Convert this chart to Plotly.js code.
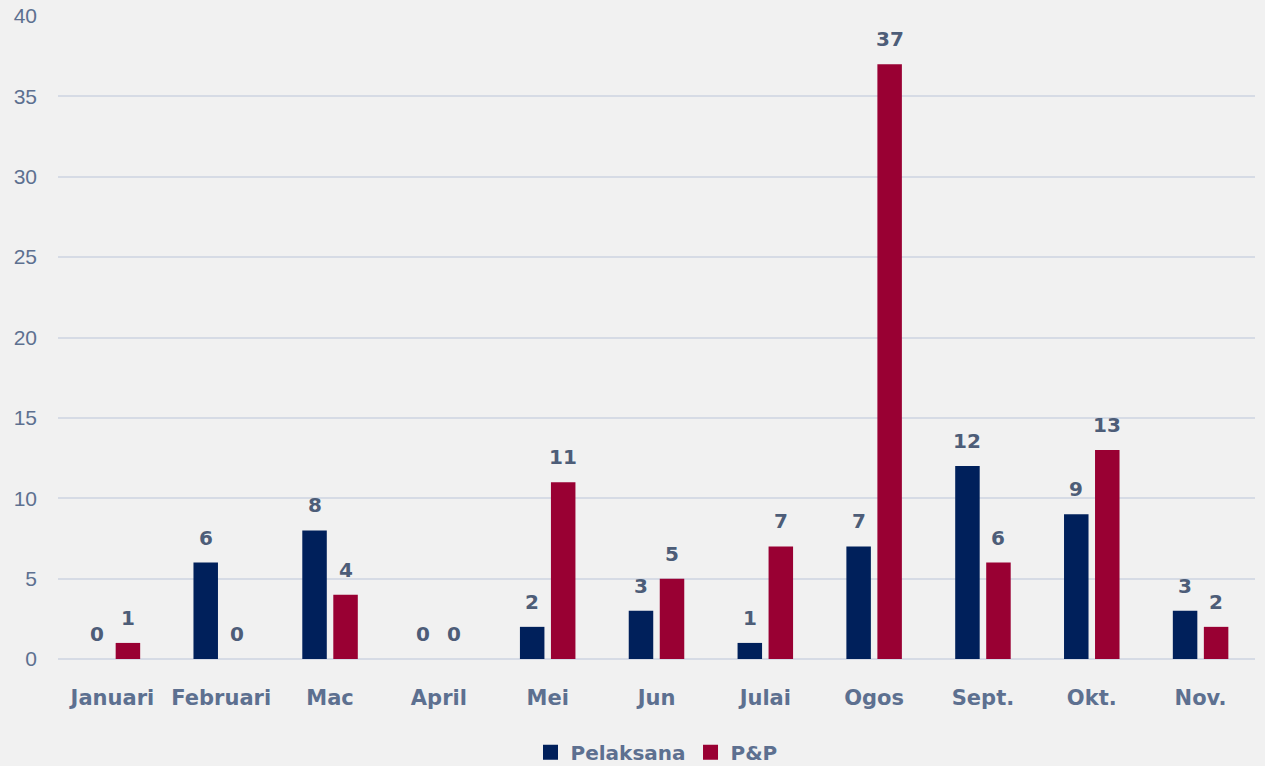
<!DOCTYPE html>
<html><head><meta charset="utf-8">
<script src="https://cdn.plot.ly/plotly-3.0.1.min.js"></script>
<style>html,body{margin:0;padding:0;background:#f1f1f1;}#chart{width:1265px;height:766px;}</style>
</head><body><div id="chart"></div>
<script>
const categories = ["Januari","Februari","Mac","April","Mei","Jun","Julai","Ogos","Sept.","Okt.","Nov."];
const pelaksana = [0,6,8,0,2,3,1,7,12,9,3];
const pnp = [1,0,4,0,11,5,7,37,6,13,2];
const yTicks = [0,5,10,15,20,25,30,35,40];
const seriesNames = ["Pelaksana","P&P"];
const seriesColors = ["#00205b","#990033"];

const labelFont = {family:"DejaVu Sans, sans-serif", size:20, color:"#4d5d78", weight:700};
const traces = [
  {type:"bar", name:seriesNames[0], x:categories, y:pelaksana, marker:{color:seriesColors[0]}, showlegend:false},
  {type:"bar", name:seriesNames[1], x:categories, y:pnp, marker:{color:seriesColors[1]}, showlegend:false},
  {type:"scatter", mode:"markers", name:seriesNames[0], x:[null], y:[null], marker:{symbol:"square", size:15, color:seriesColors[0]}},
  {type:"scatter", mode:"markers", name:seriesNames[1], x:[null], y:[null], marker:{symbol:"square", size:15, color:seriesColors[1]}}
];
const annotations = [];
categories.forEach((c,i)=>{
  annotations.push({x:c, y:pelaksana[i], xref:"x", yref:"y", text:String(pelaksana[i]), showarrow:false,
    yanchor:"bottom", xshift:-15.5, yshift:11, font:labelFont});
  annotations.push({x:c, y:pnp[i], xref:"x", yref:"y", text:String(pnp[i]), showarrow:false,
    yanchor:"bottom", xshift:15.5, yshift:11, font:labelFont});
});
const layout = {
  width:1265, height:766,
  paper_bgcolor:"#f1f1f1", plot_bgcolor:"rgba(0,0,0,0)",
  margin:{l:58, r:10, t:16, b:107, autoexpand:false},
  barmode:"group", bargap:0.43, bargroupgap:0.21,
  annotations:annotations,
  xaxis:{tickfont:{family:"DejaVu Sans, sans-serif", size:21, color:"#5d7090", weight:700}, ticks:"", showgrid:false, zeroline:false, showline:false, ticklabelstandoff:24, automargin:false},
  yaxis:{range:[0,40], tickvals:yTicks, ticktext:yTicks.map(String), tickfont:{family:"Liberation Sans, Arial, sans-serif", size:21, color:"#5d7090"},
    gridcolor:"#d6dbe5", gridwidth:2, zeroline:true, zerolinecolor:"#d6dbe5", zerolinewidth:2, ticks:"", ticklabelstandoff:20, automargin:false},
  legend:{orientation:"h", x:0.5, xanchor:"center", y:-0.145, yanchor:"middle", font:{family:"DejaVu Sans, sans-serif", size:20, color:"#5d7090", weight:700}, itemwidth:30, tracegroupgap:0},
  showlegend:true
};
Plotly.newPlot("chart", traces, layout, {displayModeBar:false, staticPlot:true});
</script></body></html>
